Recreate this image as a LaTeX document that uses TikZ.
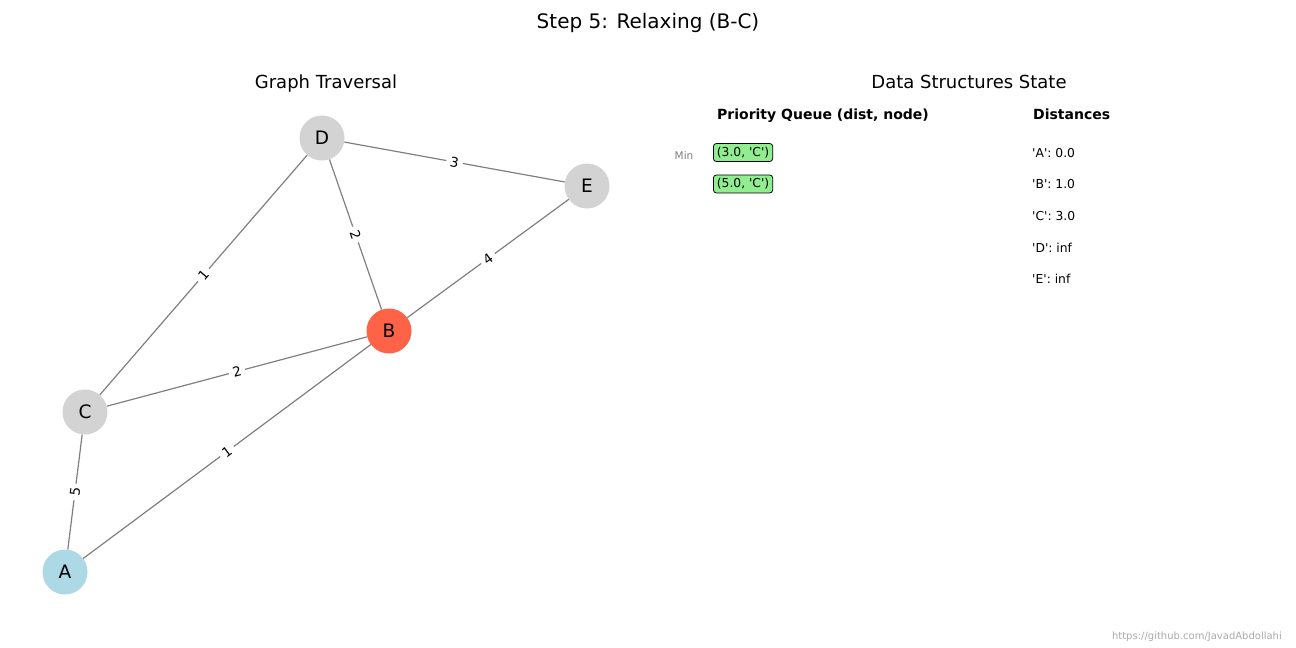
\documentclass[tikz,border=0pt]{standalone}
\usepackage{fontspec}
\newfontfamily\dejavu{DejaVu Sans}
\begin{document}
\begin{tikzpicture}[x=1pt,y=-1pt,
  every node/.style={font=\dejavu},
  vert/.style={circle,minimum size=45pt,inner sep=0pt,font=\dejavu\fontsize{18.5}{20}\selectfont},
  grayv/.style={vert,fill=lightgrayv},
  edge/.style={draw=edgegray,line width=1.2pt},
  elabel/.style={sloped,midway,fill=white,inner xsep=4pt,inner ysep=2pt,font=\dejavu\fontsize{13.5}{15}\selectfont},
  pq/.style={draw=black,fill=pqgreen,rounded corners=3pt,line width=0.8pt,inner xsep=3.5pt,inner ysep=3.5pt,anchor=west,font=\dejavu\fontsize{12.3}{14}\selectfont},
  dist/.style={anchor=west,inner sep=0pt,font=\dejavu\fontsize{12.3}{14}\selectfont},
  hdr/.style={anchor=base west,inner sep=0pt,font=\dejavu\bfseries\fontsize{14}{16}\selectfont},
  sub/.style={anchor=base,inner sep=0pt,font=\dejavu\fontsize{18}{20}\selectfont}
]
\definecolor{lightgrayv}{HTML}{D3D3D3}
\definecolor{edgegray}{HTML}{808080}
\definecolor{tomatov}{HTML}{FF6347}
\definecolor{lightbluev}{HTML}{ADD8E6}
\definecolor{pqgreen}{HTML}{90EE90}
\path[use as bounding box,fill=white] (0,0) rectangle (1296,648);

\node[font=\dejavu\fontsize{20}{24}\selectfont] (title) at (648,22.5) {Step 5: Relaxing (B-C)};
\node[sub] (gt) at (326,88) {Graph Traversal};
\node[sub] (ds) at (969,88) {Data Structures State};

% vertices
\node[grayv] (D) at (322,138) {D};
\node[grayv] (E) at (587,186) {E};
\node[vert,fill=tomatov] (B) at (389,331) {B};
\node[grayv] (C) at (85,412) {C};
\node[vert,fill=lightbluev] (A) at (65,572) {A};

% edges
\draw[edge] (D) -- node[elabel] {3} (E);
\draw[edge] (D) -- node[elabel] {2} (B);
\draw[edge] (D) -- node[elabel] {1} (C);
\draw[edge] (B) -- node[elabel] {4} (E);
\draw[edge] (C) -- node[elabel] {2} (B);
\draw[edge] (A) -- node[elabel] {1} (B);
\draw[edge] (C) -- node[elabel] {5} (A);

% data structures
\node[hdr] (pqh) at (717,119.5) {Priority Queue (dist, node)};
\node[hdr] (dh) at (1033,119.5) {Distances};
\node[anchor=center,text=edgegray,font=\dejavu\fontsize{10.5}{12}\selectfont] (min) at (684,156) {Min};
\node[pq] (q1) at (713,152.5) {(3.0, 'C')};
\node[pq] (q2) at (713,184) {(5.0, 'C')};
\node[dist] (d1) at (1032,153) {'A': 0.0};
\node[dist] (d2) at (1032,184.5) {'B': 1.0};
\node[dist] (d3) at (1032,216) {'C': 3.0};
\node[dist] (d4) at (1032,247.5) {'D': inf};
\node[dist] (d5) at (1032,279) {'E': inf};

\node[anchor=east,inner sep=0pt,text=black!33,font=\dejavu\fontsize{10}{12}\selectfont] (wm) at (1282,637) {https://github.com/JavadAbdollahi};
\end{tikzpicture}
\end{document}
